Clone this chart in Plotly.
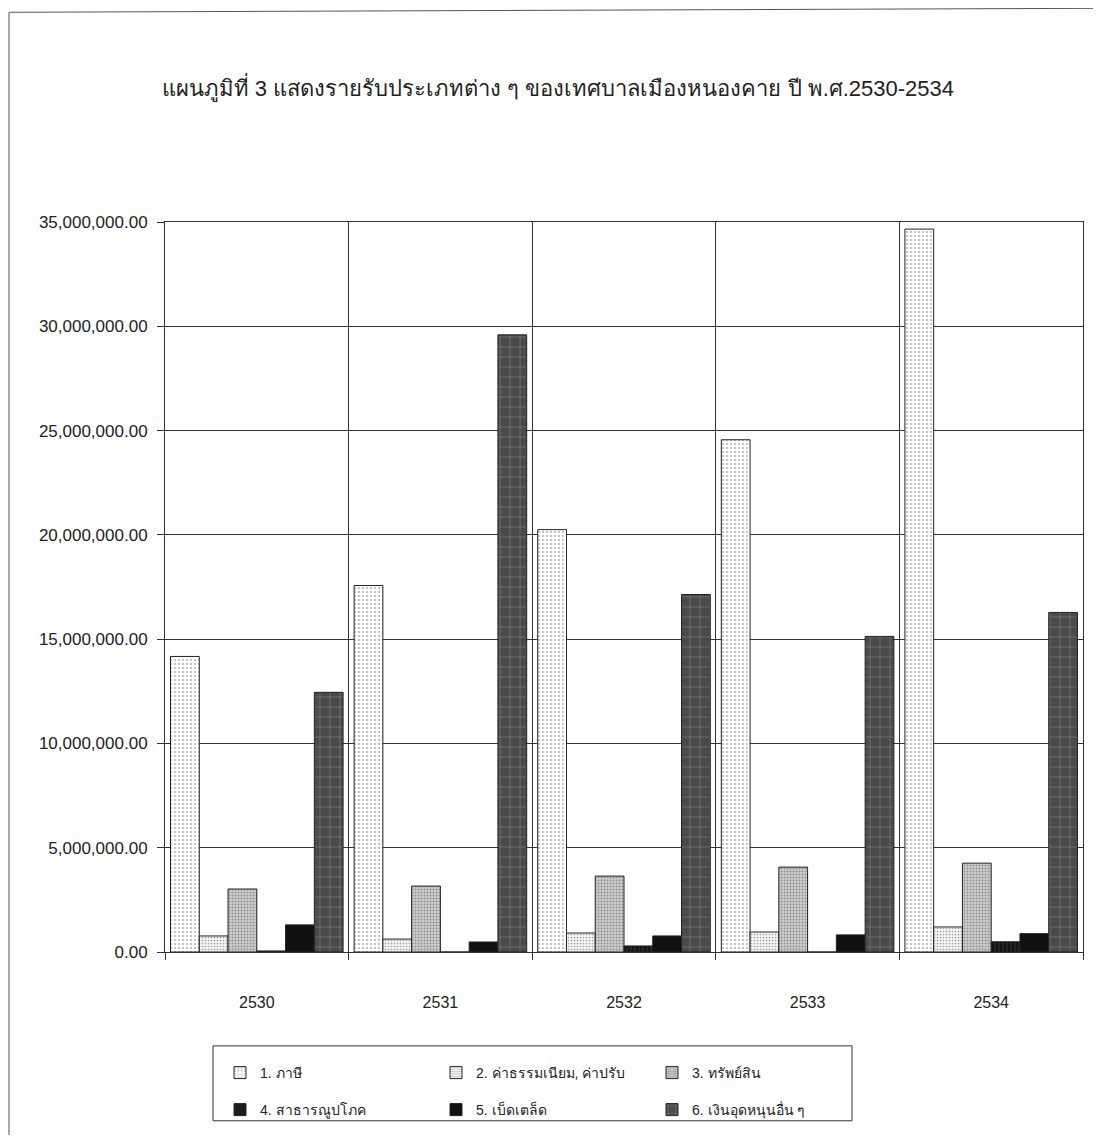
import plotly.graph_objects as go

years = ["2530", "2531", "2532", "2533", "2534"]
series_names = [
    "1. ภาษี",
    "2. ค่าธรรมเนียม, ค่าปรับ",
    "3. ทรัพย์สิน",
    "4. สาธารณูปโภค",
    "5. เบ็ดเตล็ด",
    "6. เงินอุดหนุนอื่น ๆ",
]
tax = [14170000, 17570000, 20250000, 24560000, 34660000]
fees = [770000, 620000, 910000, 960000, 1200000]
property_income = [3020000, 3160000, 3640000, 4070000, 4260000]
utilities = [50000, 0, 290000, 0, 490000]
misc = [1300000, 480000, 770000, 820000, 880000]
subsidies = [12450000, 29590000, 17140000, 15130000, 16280000]

values = [tax, fees, property_income, utilities, misc, subsidies]
styles = [
    dict(bg="white", fg="#b0b0b0", shape=".", size=4, sol=0.2),
    dict(bg="#f4f4f4", fg="#a0a0a0", shape=".", size=3, sol=0.25),
    dict(bg="#cfcfcf", fg="#8f8f8f", shape=".", size=3, sol=0.35),
    dict(bg="#151515", fg="#3a3a3a", shape="|", size=4, sol=0.2),
    dict(bg="#111111", fg="#111111", shape="", size=4, sol=0.2),
    dict(bg="#4a4a4a", fg="#9a9a9a", shape="+", size=10, sol=0.08),
]

# body margin of 8px in the html page is compensated here
W, H = 1085, 1127
L, T = 157, 214
PW, PH = 918, 731

fig = go.Figure()
for i, (name, vals, st) in enumerate(zip(series_names, values, styles)):
    fig.add_trace(go.Bar(
        x=years, y=vals, name=name,
        legend="legend" if i < 3 else "legend2",
        marker=dict(
            color=st["bg"],
            line=dict(color="#222", width=1),
            pattern=dict(shape=st["shape"], fgcolor=st["fg"], bgcolor=st["bg"],
                         size=st["size"], solidity=st["sol"], fillmode="replace"),
        ),
    ))

leg_common = dict(
    orientation="h", xanchor="left", yanchor="top",
    bgcolor="rgba(0,0,0,0)", borderwidth=0,
    entrywidth=171, entrywidthmode="pixels",
    font=dict(size=14, color="#222"),
    traceorder="normal",
)

fig.update_layout(
    width=W, height=H,
    margin=dict(l=L, r=W - L - PW, t=T, b=H - T - PH),
    paper_bgcolor="white", plot_bgcolor="white",
    barmode="group", bargap=0.06, bargroupgap=0,
    font=dict(family="Liberation Sans, Noto Sans, sans-serif", color="#222"),
    title=dict(
        text="แผนภูมิที่ 3 แสดงรายรับประเภทต่าง ๆ ของเทศบาลเมืองหนองคาย ปี พ.ศ.2530-2534",
        x=0.428, xanchor="center", xref="paper", y=1 - 80 / H, yanchor="middle",
        font=dict(size=22, color="#222"),
    ),
    legend=dict(x=(220 - 165) / PW, y=-(1057 - 953) / PH, **leg_common),
    legend2=dict(x=(220 - 165) / PW, y=-(1094 - 953) / PH, **leg_common),
    showlegend=True,
)
fig.update_xaxes(
    type="category", tickson="boundaries", showgrid=True, gridcolor="#333", gridwidth=1,
    ticks="outside", ticklen=7, tickcolor="#333",
    showline=True, linecolor="#333", mirror=True,
    tickfont=dict(size=16), ticklabelstandoff=36,
)
fig.update_yaxes(
    range=[0, 35000000], dtick=5000000, tickformat=",.2f",
    showgrid=True, gridcolor="#333", gridwidth=1,
    ticks="outside", ticklen=7, tickcolor="#333",
    showline=True, linecolor="#333", mirror=True,
    tickfont=dict(size=17), zeroline=False, ticklabelstandoff=6,
)
# legend frame
fig.add_shape(type="rect", xref="paper", yref="paper",
              x0=(213 - 165) / PW, x1=(852 - 165) / PW,
              y0=-(1047 - 953) / PH, y1=-(1122 - 953) / PH,
              line=dict(color="#333", width=1))
# page frame lines (scanned page border)
fx = (1 - L) / PW
fig.add_shape(type="line", xref="paper", yref="paper",
              x0=fx, x1=1 + 18 / PW, y0=1 + 210 / PH, y1=1 + 214 / PH,
              line=dict(color="#555", width=1))
fig.add_shape(type="line", xref="paper", yref="paper",
              x0=fx, x1=fx, y0=1 + 210 / PH, y1=-190 / PH,
              line=dict(color="#555", width=1))

fig.write_html("out.html")
